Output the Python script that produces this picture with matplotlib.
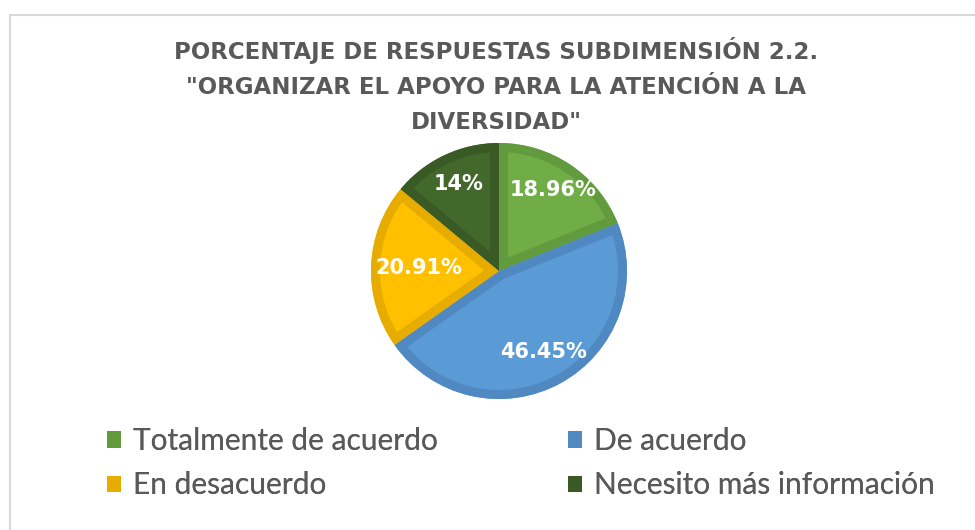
import numpy as np
import matplotlib.pyplot as plt
from matplotlib.patches import Patch, Rectangle, Wedge


OUTPUT_PNG = "out.png"

FIG_W_PX = 975
FIG_H_PX = 530
DPI = 100

# Data (clockwise from 12 o'clock)
categories = [
    "Totalmente de acuerdo",
    "De acuerdo",
    "En desacuerdo",
    "Necesito más información",
]
percentages = [18.96, 46.45, 20.91, 14.0]
pct_labels = ["18.96%", "46.45%", "20.91%", "14%"]

fill_colors = ["#70AD47", "#5B9BD5", "#FFC000", "#43682B"]
edge_colors = ["#629A3E", "#5089C2", "#E6AC00", "#3A5A25"]
label_dist = [0.76, 0.72, 0.63, 0.75]

TITLE_LINES = (
    "PORCENTAJE DE RESPUESTAS SUBDIMENSIÓN 2.2.\n"
    "\"ORGANIZAR EL APOYO PARA LA ATENCIÓN A LA\n"
    "DIVERSIDAD\""
)
TEXT_GRAY = "#595959"


def px_box(left, top, width, height):
    # pixel box (from top-left) -> figure fraction rect
    return [left / FIG_W_PX, 1 - (top + height) / FIG_H_PX,
            width / FIG_W_PX, height / FIG_H_PX]


def main():
    fig = plt.figure(figsize=(FIG_W_PX / DPI, FIG_H_PX / DPI), dpi=DPI)

    # light chart-area frame
    fig.patches.append(Rectangle((10 / FIG_W_PX, -0.1), 1.0, 1.1 - 15 / FIG_H_PX,
                                 transform=fig.transFigure, fill=False,
                                 edgecolor="#D9D9D9", linewidth=1.5))

    fig.text(496 / FIG_W_PX, 1 - 37 / FIG_H_PX, TITLE_LINES, ha="center",
             va="top", fontsize=16.5, fontweight="bold", color=TEXT_GRAY,
             family="DejaVu Sans", linespacing=1.68)

    cx, cy, r = 499, 271, 128
    ax = fig.add_axes(px_box(cx - r, cy - r, 2 * r, 2 * r))
    wedges, _ = ax.pie(percentages, colors=fill_colors, startangle=90,
                       counterclock=False, radius=1.0,
                       wedgeprops={"linewidth": 0})

    # Excel-like inner border: thick darker outline clipped to each slice
    for w, ec in zip(wedges, edge_colors):
        border = Wedge(w.center, w.r, w.theta1, w.theta2, facecolor="none",
                       edgecolor=ec, linewidth=13)
        ax.add_patch(border)
        border.set_clip_path(w)

    for w, txt, d in zip(wedges, pct_labels, label_dist):
        mid = np.deg2rad((w.theta1 + w.theta2) / 2)
        ax.text(d * np.cos(mid), d * np.sin(mid), txt, ha="center",
                va="center", color="white", fontsize=15, fontweight="bold",
                family="DejaVu Sans")

    ax.set_xlim(-1, 1)
    ax.set_ylim(-1, 1)
    ax.set_aspect("equal")
    ax.axis("off")

    legend_kw = dict(
        frameon=False,
        handlelength=0.47,
        handleheight=0.47,
        handletextpad=0.4,
        labelspacing=0.55,
        borderaxespad=0,
        borderpad=0,
        labelcolor=TEXT_GRAY,
        prop={"family": "Lato", "size": 21.5},
        loc="upper left",
    )
    cols = [[0, 2], [1, 3]]
    anchors = [(107, 427), (568, 427)]
    for idx, (ax_px, ay_px) in zip(cols, anchors):
        handles = [Patch(facecolor=edge_colors[i], edgecolor="none")
                   for i in idx]
        labels = [categories[i] for i in idx]
        leg = fig.legend(handles, labels,
                         bbox_to_anchor=(ax_px / FIG_W_PX,
                                         1 - ay_px / FIG_H_PX),
                         **legend_kw)
        fig.add_artist(leg)

    fig.savefig(OUTPUT_PNG, dpi=DPI)
    plt.close(fig)


if __name__ == "__main__":
    main()
